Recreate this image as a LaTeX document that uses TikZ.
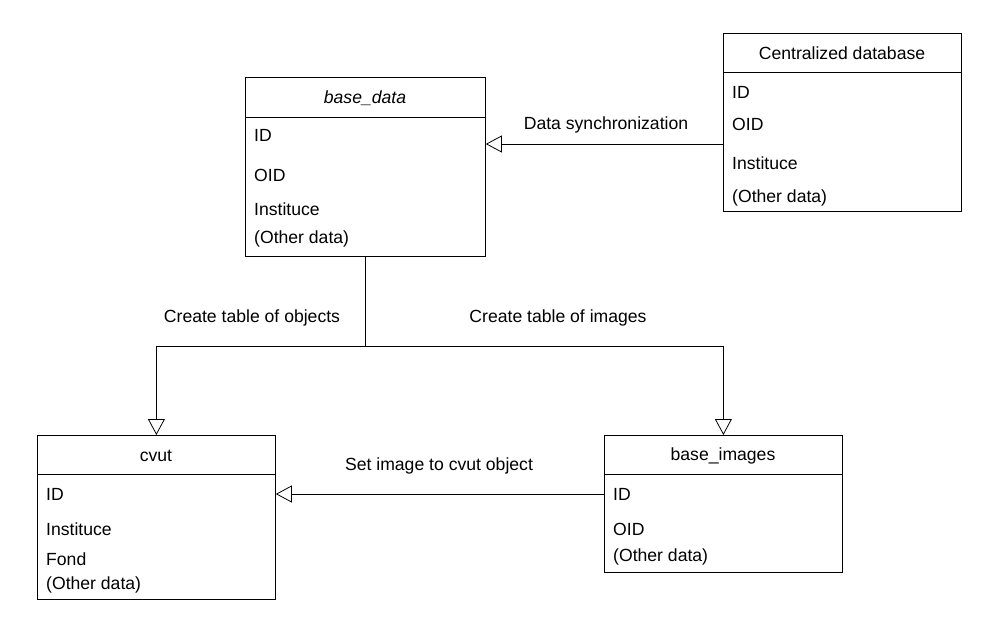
\documentclass[tikz,border=0pt]{standalone}
\usepackage{fontspec}
\setmainfont{Liberation Sans}
\usetikzlibrary{arrows.meta}
\begin{document}
\begin{tikzpicture}[x=1pt,y=-1pt,font=\fontsize{17.6}{20}\selectfont,
    classbox/.style={draw, line width=0.8pt, anchor=north west, inner sep=0pt},
    attr/.style={anchor=west, inner sep=0pt},
    title/.style={inner sep=0pt},
    note/.style={inner sep=0pt},
    inherit/.style={line width=0.8pt, -{Triangle[open,length=16pt,width=17pt]}}]
    \useasboundingbox (0,0) rectangle (992,635);
    % base_data class
    \node[classbox, minimum width=240pt, minimum height=179pt] (basedata) at (245,77) {};
    \draw[line width=0.8pt] ([yshift=-40pt]basedata.north west) -- ([yshift=-40pt]basedata.north east);
    \node[title] (basedatatitle) at (365,98) {\itshape base\_data};
    \node[attr] (basedataid) at (254,135) {ID};
    \node[attr] (basedataoid) at (254,175) {OID};
    \node[attr] (basedatainst) at (254,209) {Instituce};
    \node[attr] (basedataother) at (254,239) {(Other data)};
    % Centralized database
    \node[classbox, minimum width=238pt, minimum height=178pt] (centraldb) at (723,33) {};
    \draw[line width=0.8pt] ([yshift=-39pt]centraldb.north west) -- ([yshift=-39pt]centraldb.north east);
    \node[title] (centraldbtitle) at (842,53) {Centralized database};
    \node[attr] (centraldbid) at (732,92) {ID};
    \node[attr] (centraldboid) at (732,124) {OID};
    \node[attr] (centraldbinst) at (732,163) {Instituce};
    \node[attr] (centraldbother) at (732,198) {(Other data)};
    % cvut class
    \node[classbox, minimum width=238pt, minimum height=164pt] (cvut) at (37,435) {};
    \draw[line width=0.8pt] ([yshift=-39pt]cvut.north west) -- ([yshift=-39pt]cvut.north east);
    \node[title] (cvuttitle) at (156,456) {cvut};
    \node[attr] (cvutid) at (46,494) {ID};
    \node[attr] (cvutinst) at (46,529) {Instituce};
    \node[attr] (cvutfond) at (46,559) {Fond};
    \node[attr] (cvutother) at (46,585) {(Other data)};
    % base_images class
    \node[classbox, minimum width=238pt, minimum height=137pt] (images) at (604,435) {};
    \draw[line width=0.8pt] ([yshift=-39pt]images.north west) -- ([yshift=-39pt]images.north east);
    \node[title] (imagestitle) at (723,456) {base\_images};
    \node[attr] (imagesid) at (613,494) {ID};
    \node[attr] (imagesoid) at (613,529) {OID};
    \node[attr] (imagesother) at (613,557) {(Other data)};
    % connectors
    \coordinate (sync) at (723,144);
    \coordinate (split) at (365.5,346);
    \draw[inherit] (sync) -- (sync -| basedata.east);
    \draw[inherit] (basedata.south -| split) -- (split) -| (cvut.north);
    \draw[inherit] (split) -| (images.north);
    \draw[inherit] (images.west |- imagesid) -- (cvut.east |- imagesid);
    % labels
    \node[note] (synclabel) at (606,125) {Data synchronization};
    \node[note] (objlabel) at (252,318) {Create table of objects};
    \node[note] (imglabel) at (558,318) {Create table of images};
    \node[note] (setlabel) at (439,466) {Set image to cvut object};
\end{tikzpicture}
\end{document}
